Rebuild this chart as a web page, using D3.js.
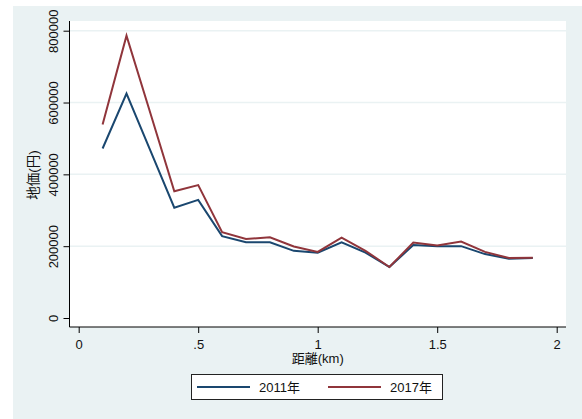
<!DOCTYPE html>
<html lang="ja">
<head>
    <meta charset="UTF-8">
    <title>地価と距離</title>
    <script src="https://cdn.jsdelivr.net/npm/d3@7"></script>
    <style>
      body { margin: 0; background: #fff; }
      text { font-family: "Liberation Sans", Arial, "Noto Sans CJK JP", sans-serif; fill: #111; }
    </style>
</head>
<body>
    <script>
      const distance = [0.1, 0.2, 0.3, 0.4, 0.5, 0.6, 0.7, 0.8, 0.9, 1.0,
                        1.1, 1.2, 1.3, 1.4, 1.5, 1.6, 1.7, 1.8, 1.9];
      const price2011 = [472000, 625000, 466000, 307000, 329000, 228000, 211000, 211000, 187000, 182000,
                         211000, 182000, 142000, 203000, 200000, 200000, 178000, 165000, 167000];
      const price2017 = [539000, 786000, 570000, 353000, 370000, 239000, 220000, 225000, 199000, 184000,
                         224000, 187000, 142000, 210000, 202000, 213000, 184000, 167000, 168000];
      const seriesNames = ["2011年", "2017年"];
      const xTicks = [0, 0.5, 1, 1.5, 2];
      const xTickLabels = ["0", ".5", "1", "1.5", "2"];
      const yTicks = [0, 200000, 400000, 600000, 800000];

      const w = 582;
      const h = 419;
      const plot = { left: 69.5, right: 566, top: 21, bottom: 327 };
      const colors = ["#1a476f", "#90353b"];

      const xScale = d3.scaleLinear()
                       .domain([0, 2])
                       .range([78.7, 556.7]);

      const yScale = d3.scaleLinear()
                       .domain([0, 800000])
                       .range([318, 30.7]);

      const svg = d3.select("body")
                    .append("svg")
                    .attr("width", w)
                    .attr("height", h);

      // graph region + plot region
      svg.append("rect")
         .attr("x", 13).attr("y", 6)
         .attr("width", w - 13).attr("height", h - 6)
         .attr("fill", "#eaf2f3");

      svg.append("rect")
         .attr("x", plot.left).attr("y", plot.top)
         .attr("width", plot.right - plot.left).attr("height", plot.bottom - plot.top)
         .attr("fill", "#fff");

      // gridlines
      svg.selectAll(".grid")
         .data(yTicks.filter(d => d > 0))
         .enter()
         .append("line")
         .attr("class", "grid")
         .attr("x1", plot.left).attr("x2", plot.right)
         .attr("y1", d => yScale(d)).attr("y2", d => yScale(d))
         .attr("stroke", "#eaf2f3")
         .attr("stroke-width", 1.5);

      // lines
      const line = d3.line()
                     .x((d, i) => xScale(distance[i]))
                     .y(d => yScale(d));

      [price2011, price2017].forEach((values, k) => {
        svg.append("path")
           .datum(values)
           .attr("fill", "none")
           .attr("stroke", colors[k])
           .attr("stroke-width", 2)
           .attr("stroke-linejoin", "miter")
           .attr("d", line);
      });

      // y axis
      const yAxis = d3.axisLeft(yScale)
                      .tickValues(yTicks)
                      .tickSize(6)
                      .tickSizeOuter(0)
                      .tickFormat(d3.format("d"));

      const gy = svg.append("g")
                    .attr("transform", `translate(${plot.left}, 0)`)
                    .call(yAxis);
      gy.select(".domain").remove();
      gy.selectAll("line").attr("stroke", "#000");
      gy.selectAll("text")
        .attr("transform", "rotate(-90)")
        .attr("x", 0)
        .attr("y", -16.5)
        .attr("dy", "0.35em")
        .attr("text-anchor", "middle")
        .style("font-size", "13px");
      gy.append("line")
        .attr("x1", 0).attr("x2", 0)
        .attr("y1", plot.top).attr("y2", plot.bottom)
        .attr("stroke", "#000");

      // x axis
      const xAxis = d3.axisBottom(xScale)
                      .tickValues(xTicks)
                      .tickSize(6)
                      .tickSizeOuter(0)
                      .tickFormat((d, i) => xTickLabels[i]);

      const gx = svg.append("g")
                    .attr("transform", `translate(0, ${plot.bottom})`)
                    .call(xAxis);
      gx.select(".domain").remove();
      gx.selectAll("line").attr("stroke", "#000");
      gx.selectAll("text")
        .attr("y", 17)
        .attr("dy", "0.35em")
        .style("font-size", "13px");
      gx.append("line")
        .attr("x1", plot.left).attr("x2", plot.right)
        .attr("y1", 0).attr("y2", 0)
        .attr("stroke", "#000");

      // axis titles
      svg.append("text")
         .attr("x", (plot.left + plot.right) / 2)
         .attr("y", 358)
         .attr("dy", "0.35em")
         .attr("text-anchor", "middle")
         .style("font-size", "13px")
         .text("距離(km)");

      svg.append("text")
         .attr("transform", "translate(33, 175) rotate(-90)")
         .attr("dy", "0.35em")
         .attr("text-anchor", "middle")
         .style("font-size", "13.5px")
         .text("地価(円)");

      // legend
      const legend = svg.append("g");
      legend.append("rect")
            .attr("x", 191.5).attr("y", 374.5)
            .attr("width", 251).attr("height", 25)
            .attr("fill", "#fff")
            .attr("stroke", "#222");

      const legendX = [197, 328];
      seriesNames.forEach((name, k) => {
        legend.append("line")
              .attr("x1", legendX[k]).attr("x2", legendX[k] + 53)
              .attr("y1", 387).attr("y2", 387)
              .attr("stroke", colors[k])
              .attr("stroke-width", 2);
        legend.append("text")
              .attr("x", legendX[k] + 62)
              .attr("y", 387)
              .attr("dy", "0.35em")
              .style("font-size", "13px")
              .text(name);
      });
    </script>
</body>
</html>
